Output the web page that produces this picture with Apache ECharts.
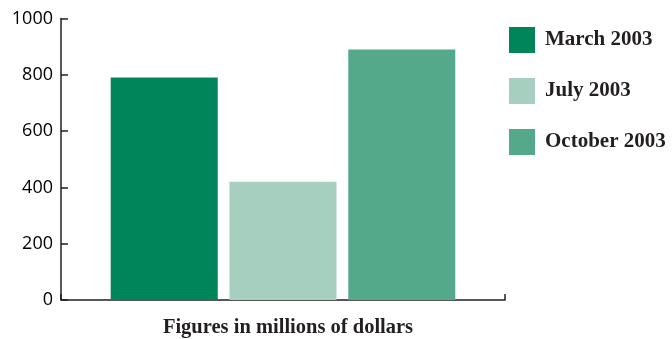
<!DOCTYPE html>
<html>
<head>
<meta charset="utf-8">
<script src="https://cdn.jsdelivr.net/npm/echarts@6/dist/echarts.min.js"></script>
<style>
  html, body { margin: 0; padding: 0; background: #fff; }
  #chart { width: 672px; height: 339px; }
</style>
</head>
<body>
<div id="chart"></div>
<script>
// Survey periods and their values (millions of dollars)
const periods = ['March 2003', 'July 2003', 'October 2003'];
const values = [790, 420, 890];
const colors = ['#00845a', '#a7cfc0', '#55a98b'];
const category = [''];
const yTicks = { min: 0, max: 1000, interval: 200 };

const ink = '#231f20';
const serif = '"Liberation Serif", "DejaVu Serif", serif';

const series = periods.map((name, i) => ({
  name: name,
  type: 'bar',
  data: [values[i]],
  barWidth: 107,
  barGap: '11%',
  itemStyle: { color: colors[i] }
}));

const chart = echarts.init(document.getElementById('chart'), null, { renderer: 'canvas' });
chart.setOption({
  animation: false,
  grid: {
    left: 61, right: 167, top: 18.5, bottom: 39,
    containLabel: false,
    outerBoundsMode: 'none'
  },
  legend: {
    orient: 'vertical',
    left: 509,
    top: 27,
    padding: 0,
    itemWidth: 26,
    itemHeight: 26,
    itemGap: 25,
    icon: 'rect',
    data: periods,
    textStyle: {
      fontFamily: serif,
      fontWeight: 'bold',
      fontSize: 21,
      color: ink,
      padding: [0, 0, 0, 5]
    }
  },
  xAxis: {
    type: 'category',
    data: category,
    name: 'Figures in millions of dollars',
    nameLocation: 'middle',
    nameGap: 17,
    nameTextStyle: {
      fontFamily: serif,
      fontWeight: 'bold',
      fontSize: 20.5,
      color: ink,
      padding: [0, 0, 0, 10]
    },
    axisLine: { lineStyle: { color: ink, width: 1.5 } },
    axisTick: { show: true, inside: true, length: 6, lineStyle: { color: ink, width: 1.5 } },
    axisLabel: { show: false }
  },
  yAxis: {
    type: 'value',
    min: yTicks.min,
    max: yTicks.max,
    interval: yTicks.interval,
    axisLine: { show: true, lineStyle: { color: ink, width: 1.5 } },
    axisTick: { show: true, inside: true, length: 7, lineStyle: { color: ink, width: 1.5 } },
    splitLine: { show: false },
    axisLabel: {
      margin: 8,
      fontFamily: '"Open Sans", "Noto Sans", sans-serif',
      fontSize: 18,
      color: '#000',
      formatter: v => String(v)
    }
  },
  series: series
});
</script>
</body>
</html>
